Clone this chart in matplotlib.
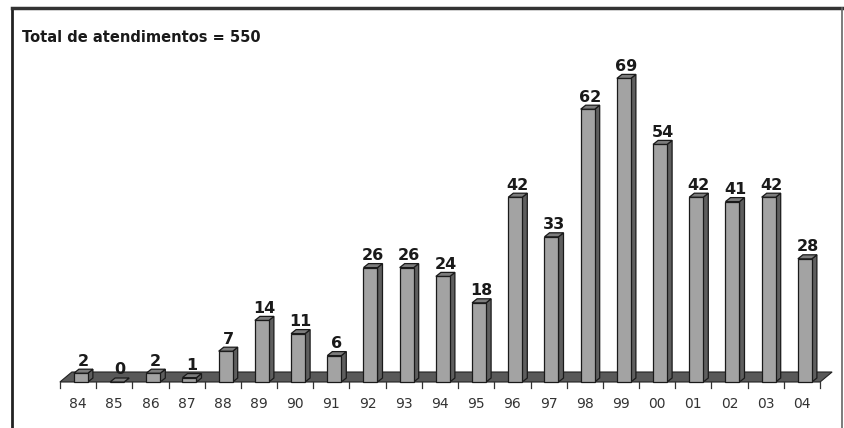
import matplotlib
matplotlib.use('Agg')
import matplotlib.pyplot as plt
from matplotlib.patches import Polygon
import numpy as np

# Atendimentos por ano
anos = ['84', '85', '86', '87', '88', '89', '90', '91', '92', '93', '94',
        '95', '96', '97', '98', '99', '00', '01', '02', '03', '04']
atendimentos = [2, 0, 2, 1, 7, 14, 11, 6, 26, 26, 24,
                18, 42, 33, 62, 69, 54, 42, 41, 42, 28]
titulo = 'Total de atendimentos = 550'

x = np.arange(len(anos))
W, H = 844, 428
px_cat, px_unit = 36.2, 4.4          # pixels per category / per unit
x0px, y0px = 78, 382                 # pixel position of first category / zero

fig = plt.figure(figsize=(W/100, H/100), dpi=100)
ax = fig.add_axes([0, 0, 1, 1])
ax.set_xlim(-x0px/px_cat, (W - x0px)/px_cat)
ax.set_ylim(-(H - y0px)/px_unit, y0px/px_unit)
ax.axis('off')

# depth of bars and floor in data units
bdx, bdy = 5/px_cat, 4/px_unit
fdx, fdy = 12/px_cat, 10/px_unit
bw = 14/px_cat
xc = x + 0.08

# floor
floor = Polygon([(-0.5, 0), (20.5, 0), (20.5 + fdx, fdy), (-0.5 + fdx, fdy)],
                closed=True, fc='#595959', ec='#222222', lw=0.8, zorder=1)
ax.add_patch(floor)

# bars: front faces, then side and top faces
ax.bar(xc, atendimentos, width=bw, color='#a3a3a3', edgecolor='#1a1a1a',
       linewidth=0.9, zorder=3)
for xi, v in zip(xc, atendimentos):
    l, r = xi - bw/2, xi + bw/2
    side = Polygon([(r, 0), (r + bdx, bdy), (r + bdx, v + bdy), (r, v)],
                   closed=True, fc='#5e5e5e', ec='#1a1a1a', lw=0.9, zorder=2)
    top = Polygon([(l, v), (r, v), (r + bdx, v + bdy), (l + bdx, v + bdy)],
                  closed=True, fc='#7d7d7d', ec='#1a1a1a', lw=0.9, zorder=3)
    ax.add_patch(side)
    ax.add_patch(top)
    ax.text(xi + bdx/2, v + 12/px_unit, str(v), ha='center', va='center',
            fontsize=11.5, fontweight='bold', color='#1a1a1a', zorder=4)

# ticks and category labels
for i in range(len(anos) + 1):
    ax.plot([i - 0.5, i - 0.5], [0, -1.4], color='#333333', lw=0.9, zorder=2)
for xi, a in zip(x, anos):
    ax.text(xi, -3.4, a, ha='center', va='top', fontsize=10, color='#333333')

ax.text(22/W, 1 - 37/H, titulo, transform=ax.transAxes, ha='left',
        va='center', fontsize=10.5, fontweight='bold', color='#1a1a1a')

# frame around the chart
ax.plot([12/W, 12/W], [0, 1 - 8/H], transform=ax.transAxes, color='#222222', lw=2, clip_on=False)
ax.plot([12/W, 842/W], [1 - 8/H, 1 - 8/H], transform=ax.transAxes, color='#333333', lw=2.5)
ax.plot([842/W, 842/W], [0, 1 - 8/H], transform=ax.transAxes, color='#666666', lw=1.2)

fig.savefig('out.png', dpi=100)
